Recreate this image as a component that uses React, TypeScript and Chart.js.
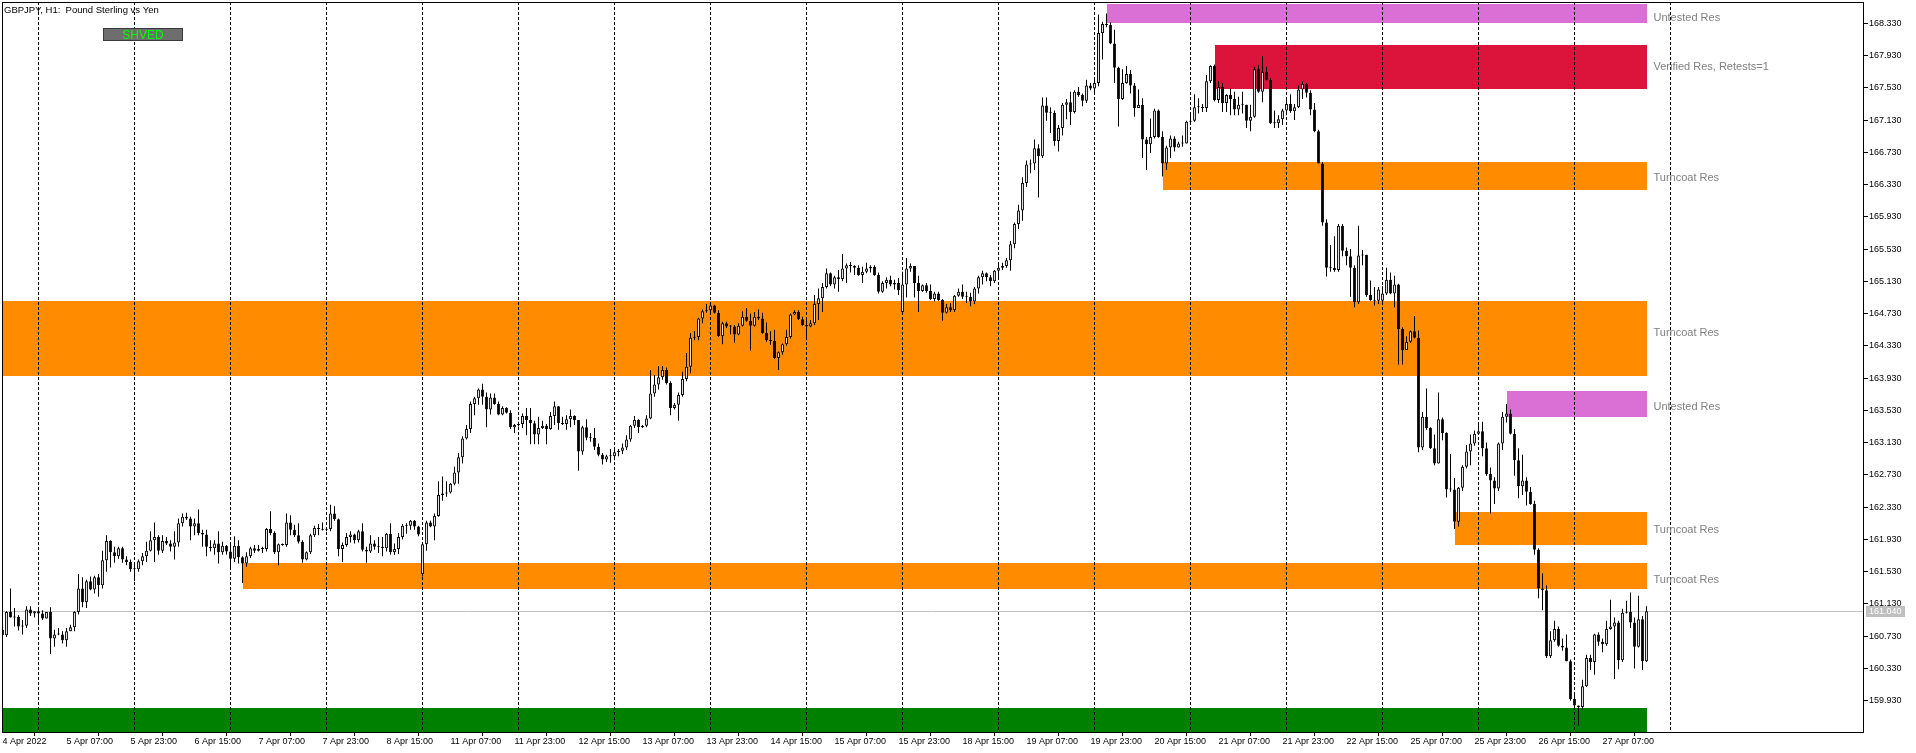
import React, { useEffect, useRef } from 'react';
import { Chart, registerables } from 'chart.js';

Chart.register(...registerables);

// ---------- DATA (GBPJPY H1, bar 0 = 4 Apr 2022 15:00) ----------
const closes = [
  160.74,161.03,160.96,160.97,160.85,160.86,161.06,161.01,161.04,161.01,160.95,161.03,
  160.70,160.75,160.75,160.68,160.79,160.84,161.03,161.32,161.15,161.41,161.31,161.46,
  161.36,161.67,161.91,161.77,161.72,161.82,161.68,161.65,161.56,161.56,161.66,161.72,
  161.79,161.92,161.96,161.79,161.91,161.88,161.84,161.89,162.13,162.21,162.19,162.09,
  162.13,162.01,161.99,161.84,161.82,161.88,161.77,161.85,161.78,161.69,161.85,161.71,
  161.63,161.72,161.82,161.79,161.81,161.81,162.06,162.01,161.77,161.87,161.86,162.14,
  162.05,161.98,161.90,161.68,161.77,161.98,162.07,162.06,162.05,162.06,162.25,162.18,
  161.81,161.86,161.96,161.99,161.92,162.03,161.80,161.78,161.88,161.84,161.84,161.82,
  162.00,161.77,161.81,161.96,162.10,162.10,162.16,162.09,161.99,161.87,162.14,162.09,
  162.22,162.48,162.50,162.51,162.62,162.76,162.95,163.18,163.30,163.61,163.68,163.79,
  163.70,163.54,163.69,163.61,163.48,163.56,163.50,163.32,163.35,163.36,163.46,163.41,
  163.37,163.23,163.31,163.34,163.30,163.46,163.58,163.37,163.36,163.42,163.46,163.41,
  163.02,163.32,163.19,163.19,163.08,162.98,162.92,162.96,162.96,163.01,163.03,163.07,
  163.17,163.34,163.41,163.32,163.34,163.43,163.74,163.85,163.94,164.03,163.87,163.56,
  163.60,163.72,163.92,164.07,164.43,164.44,164.67,164.76,164.77,164.83,164.74,164.45,
  164.61,164.57,164.57,164.47,164.58,164.69,164.64,164.58,164.69,164.67,164.49,164.40,
  164.39,164.18,164.25,164.35,164.44,164.72,164.75,164.66,164.59,164.57,164.61,164.85,
  164.92,165.06,165.23,165.09,165.18,165.16,165.29,165.33,165.32,165.30,165.21,165.25,
  165.29,165.31,165.21,165.00,165.11,165.15,165.09,165.11,165.02,165.09,165.29,165.32,
  165.11,165.01,165.08,165.01,164.91,164.98,164.90,164.74,164.81,164.77,164.95,165.00,
  164.94,164.94,164.88,165.04,165.18,165.23,165.18,165.13,165.26,165.30,165.32,165.39,
  165.59,165.84,166.01,166.35,166.58,166.59,166.78,166.68,167.31,167.22,167.22,166.87,
  167.03,167.32,167.35,167.23,167.48,167.44,167.37,167.56,167.52,167.59,168.21,168.32,
  168.31,168.08,167.78,167.39,167.59,167.70,167.56,167.28,167.32,166.89,166.83,166.92,
  167.25,166.92,166.59,166.79,166.90,166.79,166.84,166.84,167.11,167.12,167.29,167.29,
  167.28,167.61,167.80,167.38,167.54,167.34,167.44,167.39,167.26,167.32,167.32,167.12,
  167.17,167.76,167.48,167.73,167.63,167.09,167.09,167.14,167.25,167.33,167.24,167.29,
  167.51,167.58,167.47,167.26,166.99,166.59,165.86,165.30,165.30,165.27,165.82,165.51,
  165.44,165.30,164.87,165.45,165.46,164.96,164.90,164.89,165.03,164.98,165.15,164.98,
  165.09,164.54,164.28,164.38,164.51,164.43,163.07,163.45,163.31,163.06,162.87,163.42,
  163.25,162.55,162.55,162.15,162.57,162.83,163.02,163.12,163.24,163.27,163.06,162.74,
  162.66,162.56,163.12,163.45,163.49,163.24,162.91,162.59,162.66,162.52,162.37,161.80,
  161.32,161.30,160.48,160.68,160.82,160.61,160.59,160.42,159.95,159.87,159.85,160.11,
  160.46,160.41,160.75,160.66,160.63,160.82,160.85,160.90,160.43,161.02,161.03,160.90,
  160.60,160.94,160.42,161.04,
];

const highs = [
  160.83,161.04,161.32,161.08,160.99,160.93,161.10,161.10,161.04,161.09,161.05,161.03,
  161.09,160.81,160.83,160.79,160.83,160.87,161.04,161.50,161.46,161.43,161.47,161.48,
  161.50,161.79,161.98,161.92,161.84,161.84,161.84,161.72,161.68,161.63,161.68,161.76,
  161.90,162.03,162.14,161.98,161.98,161.96,161.92,162.03,162.19,162.25,162.26,162.21,
  162.19,162.30,162.05,162.05,161.92,161.92,162.03,161.90,161.86,161.88,161.97,161.92,
  161.72,161.77,161.84,161.86,161.86,161.84,162.07,162.28,162.03,161.88,161.88,162.25,
  162.23,162.11,162.13,161.92,161.78,162.00,162.10,162.12,162.14,162.07,162.36,162.34,
  162.19,161.89,162.01,162.03,162.00,162.05,162.13,161.84,161.98,161.92,161.96,161.96,
  162.01,162.13,161.88,162.01,162.12,162.13,162.17,162.17,162.10,161.88,162.16,162.16,
  162.25,162.65,162.71,162.65,162.63,162.83,163.00,163.21,163.35,163.64,163.70,163.80,
  163.86,163.75,163.74,163.74,163.64,163.58,163.57,163.53,163.36,163.39,163.49,163.56,
  163.56,163.40,163.45,163.40,163.36,163.51,163.64,163.58,163.45,163.47,163.54,163.47,
  163.41,163.34,163.42,163.25,163.31,163.12,163.00,162.98,163.05,163.06,163.05,163.12,
  163.22,163.35,163.46,163.42,163.35,163.47,164.03,163.97,164.08,164.08,164.06,163.89,
  163.62,163.75,164.01,164.24,164.49,164.51,164.68,164.78,164.85,164.87,164.84,164.77,
  164.63,164.63,164.59,164.59,164.61,164.76,164.80,164.73,164.75,164.78,164.74,164.62,
  164.51,164.53,164.26,164.36,164.53,164.73,164.77,164.77,164.69,164.65,164.65,164.96,
  165.04,165.11,165.29,165.24,165.20,165.27,165.47,165.35,165.37,165.33,165.33,165.31,
  165.36,165.33,165.33,165.24,165.13,165.18,165.20,165.15,165.17,165.25,165.42,165.35,
  165.32,165.20,165.09,165.11,165.09,165.00,165.00,164.91,164.85,164.86,164.96,165.04,
  165.09,165.00,164.99,165.06,165.20,165.26,165.24,165.21,165.27,165.35,165.36,165.42,
  165.63,165.86,166.08,166.42,166.63,166.64,166.89,166.83,167.41,167.41,167.29,167.25,
  167.07,167.34,167.39,167.48,167.50,167.54,167.46,167.63,167.59,167.63,168.44,168.35,
  168.45,168.34,168.25,167.79,167.76,167.80,167.75,167.59,167.51,167.40,166.92,167.15,
  167.27,167.26,166.99,166.81,166.94,166.93,166.86,166.94,167.12,167.23,167.45,167.40,
  167.33,167.69,167.81,167.82,167.61,167.59,167.45,167.52,167.48,167.42,167.48,167.32,
  167.32,167.79,167.81,167.92,167.79,167.65,167.25,167.19,167.27,167.40,167.45,167.33,
  167.56,167.61,167.59,167.50,167.34,167.01,166.61,165.90,165.58,165.69,165.84,165.84,
  165.55,165.53,165.33,165.82,165.52,165.46,165.14,165.06,165.06,165.07,165.30,165.24,
  165.20,165.10,164.56,164.45,164.52,164.70,164.52,163.51,163.80,163.32,163.23,163.75,
  163.44,163.26,162.99,162.69,162.58,162.85,163.10,163.23,163.28,163.37,163.39,163.13,
  162.82,162.70,163.13,163.51,163.61,163.54,163.30,163.06,162.98,162.70,162.58,162.41,
  161.82,161.51,161.36,160.79,160.92,160.85,160.70,160.75,160.44,160.03,159.87,160.19,
  160.50,160.50,160.76,160.78,160.70,160.92,161.18,160.96,160.92,161.07,161.17,161.27,
  160.96,161.23,160.98,161.10,
];

const lows = [
  160.72,160.72,160.96,160.85,160.80,160.75,160.83,160.98,160.96,160.87,160.93,160.95,
  160.51,160.60,160.74,160.64,160.60,160.79,160.79,161.00,161.09,161.08,161.30,161.26,
  161.22,161.32,161.53,161.58,161.64,161.69,161.64,161.61,161.53,161.41,161.53,161.61,
  161.65,161.78,161.65,161.74,161.76,161.86,161.78,161.68,161.84,162.09,162.17,161.92,
  161.98,161.98,161.84,161.72,161.78,161.74,161.63,161.74,161.74,161.57,161.65,161.63,
  161.39,161.59,161.70,161.76,161.78,161.76,161.78,161.98,161.75,161.61,161.85,161.84,
  161.98,161.96,161.88,161.64,161.67,161.75,161.96,161.98,162.04,162.03,162.03,162.16,
  161.72,161.65,161.84,161.89,161.88,161.89,161.78,161.64,161.76,161.80,161.76,161.72,
  161.78,161.74,161.74,161.75,161.93,162.00,162.05,162.05,161.97,161.47,161.79,162.08,
  161.92,162.21,162.41,162.46,162.50,162.60,162.62,162.87,163.17,163.25,163.47,163.60,
  163.60,163.32,163.48,163.60,163.47,163.47,163.49,163.30,163.25,163.33,163.31,163.22,
  163.11,163.11,163.11,163.30,163.11,163.29,163.35,163.29,163.35,163.29,163.32,163.35,
  162.78,162.98,163.16,163.14,163.04,162.96,162.86,162.89,162.88,162.91,162.96,162.99,
  163.04,163.14,163.31,163.25,163.31,163.32,163.42,163.70,163.79,163.91,163.85,163.47,
  163.54,163.40,163.70,163.89,163.99,164.40,164.40,164.61,164.74,164.72,164.73,164.44,
  164.35,164.55,164.47,164.37,164.46,164.57,164.63,164.27,164.57,164.65,164.48,164.38,
  164.34,164.17,164.03,164.22,164.33,164.42,164.71,164.65,164.58,164.40,164.56,164.59,
  164.65,164.75,165.04,165.07,165.04,165.00,165.13,165.11,165.24,165.21,165.20,165.11,
  165.23,165.24,165.20,164.98,164.99,165.04,165.07,165.03,164.96,164.75,164.93,165.25,
  164.93,164.75,165.00,164.99,164.90,164.88,164.89,164.64,164.73,164.75,164.75,164.94,
  164.91,164.86,164.82,164.85,164.98,165.09,165.13,165.07,165.11,165.17,165.27,165.30,
  165.26,165.54,165.78,165.88,166.30,166.47,166.51,166.17,166.66,167.12,166.97,166.81,
  166.74,166.94,167.14,167.07,167.21,167.42,167.30,167.34,167.50,167.45,167.55,167.88,
  168.28,168.07,167.59,167.05,167.38,167.58,167.46,167.17,167.28,166.66,166.51,166.72,
  166.90,166.91,166.43,166.51,166.66,166.74,166.79,166.80,166.84,167.09,167.11,167.21,
  167.23,167.23,167.59,167.36,167.34,167.23,167.23,167.19,167.19,167.19,167.21,167.03,
  166.99,167.16,167.47,167.35,167.62,167.08,167.03,167.03,167.07,167.19,167.22,167.13,
  167.28,167.39,167.41,167.19,166.98,166.59,165.82,165.19,165.25,165.25,165.25,165.44,
  165.33,164.94,164.81,164.85,165.33,164.94,164.89,164.83,164.85,164.87,164.96,164.97,
  164.81,164.10,164.10,164.28,164.37,164.42,163.01,163.04,163.29,163.05,162.85,162.87,
  163.16,162.45,162.52,162.06,162.09,162.53,162.81,162.85,163.09,163.23,162.96,162.72,
  162.25,162.37,162.53,163.04,163.38,163.23,162.72,162.44,162.48,162.35,162.36,161.74,
  161.20,161.05,160.46,160.46,160.66,160.60,160.55,160.42,159.93,159.85,159.62,159.82,
  160.10,160.31,160.25,160.61,160.53,160.61,160.81,160.20,160.32,160.41,161.01,160.83,
  160.33,160.59,160.31,160.41,
];

// opens equal the previous close, except the first bar and weekend gaps
const gapOpens: Record<number, number> = { 0: 160.81, 105: 161.50, 225: 164.75, 345: 164.89 };

const lastPrice = 161.04;
const priceMin = 159.5415;
const priceMax = 168.594;

const priceTicks = [
  159.93, 160.33, 160.73, 161.13, 161.53, 161.93, 162.33, 162.73, 163.13, 163.53, 163.93,
  164.33, 164.73, 165.13, 165.53, 165.93, 166.33, 166.73, 167.13, 167.53, 167.93, 168.33,
];

const timeTickBars = [0,16,32,48,64,80,96,112,128,144,160,176,192,208,224,240,256,272,288,304,320,336,352,368,384,400];
const timeTickLabels = [
  '4 Apr 2022', '5 Apr 07:00', '5 Apr 23:00', '6 Apr 15:00', '7 Apr 07:00', '7 Apr 23:00',
  '8 Apr 15:00', '11 Apr 07:00', '11 Apr 23:00', '12 Apr 15:00', '13 Apr 07:00', '13 Apr 23:00',
  '14 Apr 15:00', '15 Apr 07:00', '15 Apr 23:00', '18 Apr 15:00', '19 Apr 07:00', '19 Apr 23:00',
  '20 Apr 15:00', '21 Apr 07:00', '21 Apr 23:00', '22 Apr 15:00', '25 Apr 07:00', '25 Apr 23:00',
  '26 Apr 15:00', '27 Apr 07:00',
];

const daySeparatorBars = [9,33,57,81,105,129,153,177,201,225,249,273,297,321,345,369,393,417];

const zoneNames = ['Untested Res', 'Verified Res, Retests=1', 'Turncoat Res', 'Turncoat Res', 'Untested Res', 'Turncoat Res', 'Turncoat Res', ''];
const zoneLow = [168.33, 167.51, 166.26, 163.96, 163.45, 161.86, 161.32, 159.20];
const zoneHigh = [168.57, 168.06, 166.61, 164.89, 163.77, 162.27, 161.64, 159.84];
const zoneFromBar = [276, 303, 290, -2, 376, 363, 60, -2];
const zoneLabelPrice = [168.395, 167.79, 166.41, 164.49, 163.57, 162.05, 161.43, 159.5];

// ---------- STYLE ----------
const zoneColors = ['#DA70D6', '#DC143C', '#FF8C00', '#FF8C00', '#DA70D6', '#FF8C00', '#FF8C00', '#008000'];
const FONT = '"Liberation Sans", Arial, sans-serif';

const lastBar = closes.length - 1;
const opens = closes.map((c, i) => (gapOpens[i] !== undefined ? gapOpens[i] : closes[i - 1]));

const overlayPlugin = {
  id: 'mt4overlay',
  beforeDatasetsDraw(chart: any) {
    const { ctx, chartArea: a, scales } = chart;
    const xs = scales.x;
    const ys = scales.y;
    ctx.save();
    ctx.beginPath();
    ctx.rect(a.left, a.top, a.right - a.left, a.bottom - a.top);
    ctx.clip();
    // zones
    const xEnd = Math.round(xs.getPixelForValue(lastBar));
    for (let i = 0; i < zoneLow.length; i++) {
      const x0 = Math.round(xs.getPixelForValue(zoneFromBar[i]));
      const y0 = Math.round(ys.getPixelForValue(zoneHigh[i]));
      const y1 = Math.round(ys.getPixelForValue(zoneLow[i]));
      ctx.fillStyle = zoneColors[i];
      ctx.fillRect(x0, y0, xEnd - x0, y1 - y0);
    }
    // bid line
    const py = Math.round(ys.getPixelForValue(lastPrice)) + 0.5;
    ctx.strokeStyle = '#c0c0c0';
    ctx.lineWidth = 1;
    ctx.beginPath();
    ctx.moveTo(a.left, py);
    ctx.lineTo(a.right, py);
    ctx.stroke();
    // day separators
    ctx.strokeStyle = '#000';
    ctx.setLineDash([3, 2]);
    for (const b of daySeparatorBars) {
      const x = Math.round(xs.getPixelForValue(b) - 0.5) + 0.5;
      ctx.beginPath();
      ctx.moveTo(x, a.top);
      ctx.lineTo(x, a.bottom);
      ctx.stroke();
    }
    ctx.restore();
  },
  afterDraw(chart: any) {
    const { ctx, chartArea: a, scales } = chart;
    const xs = scales.x;
    const ys = scales.y;
    ctx.save();
    // zone labels
    ctx.font = `11px ${FONT}`;
    ctx.fillStyle = '#808080';
    ctx.textAlign = 'left';
    ctx.textBaseline = 'middle';
    const lx = xs.getPixelForValue(lastBar) + 7;
    for (let i = 0; i < zoneNames.length; i++) {
      if (!zoneNames[i]) continue;
      const y = ys.getPixelForValue(zoneLabelPrice[i]);
      ctx.fillText(zoneNames[i], lx, y);
    }
    // title
    ctx.fillStyle = '#000';
    ctx.font = `9.5px ${FONT}`;
    ctx.fillText('GBPJPY, H1:  Pound Sterling vs Yen', a.left + 2, a.top + 8);
    // SHVED button
    ctx.fillStyle = '#6e6e6e';
    ctx.fillRect(103, 28, 80, 13);
    ctx.strokeStyle = '#3a3a3a';
    ctx.lineWidth = 1;
    ctx.strokeRect(103.5, 28.5, 79, 12);
    ctx.fillStyle = '#00ff00';
    ctx.font = `12px ${FONT}`;
    ctx.textAlign = 'center';
    ctx.fillText('SHVED', 143, 35.5);
    // frame
    ctx.strokeStyle = '#000';
    ctx.strokeRect(a.left + 0.5, a.top + 0.5, a.right - a.left, a.bottom - a.top);
    // current price box
    const py = Math.round(ys.getPixelForValue(lastPrice));
    ctx.fillStyle = '#c0c0c0';
    ctx.fillRect(a.right + 3, py - 5, 39, 11);
    ctx.fillStyle = '#fff';
    ctx.font = `9px ${FONT}`;
    ctx.textAlign = 'left';
    ctx.fillText(lastPrice.toFixed(3), a.right + 6, py + 0.5);
    ctx.restore();
  },
};

export default function App() {
  const ref = useRef<HTMLCanvasElement>(null);
  useEffect(() => {
    const canvas = ref.current;
    if (!canvas) return;
    const bodies = closes.map((c, i) => ({ x: i, y: [opens[i], c] }));
    const wicks = closes.map((_, i) => ({ x: i, y: [lows[i], highs[i]] }));
    const bodyColors = closes.map((c, i) => (c > opens[i] ? '#ffffff' : '#000000'));
    const labelFor = new Map<number, string>();
    timeTickBars.forEach((b, i) => labelFor.set(b, timeTickLabels[i]));

    const chart = new Chart(canvas, {
      type: 'bar',
      data: {
        datasets: [
          {
            label: 'bodies',
            data: bodies as any,
            backgroundColor: bodyColors,
            borderColor: '#000',
            borderWidth: 1,
            borderSkipped: false,
            maxBarThickness: 3,
            minBarLength: 1,
            inflateAmount: 0,
            grouped: false,
            order: 0,
          } as any,
          {
            label: 'wicks',
            data: wicks as any,
            backgroundColor: '#000',
            borderWidth: 0,
            maxBarThickness: 1,
            inflateAmount: 0,
            grouped: false,
            order: 1,
          } as any,
        ],
      },
      options: {
        responsive: false,
        animation: false,
        devicePixelRatio: 1,
        events: [],
        layout: { padding: { left: 2, top: 2, right: 0, bottom: 0 } },
        plugins: { legend: { display: false }, tooltip: { enabled: false }, title: { display: false } },
        scales: {
          x: {
            type: 'linear',
            min: -0.125,
            max: 465.125,
            offset: false,
            grid: { display: true, drawOnChartArea: false, drawTicks: true, tickLength: 4, color: '#000' },
            border: { display: false },
            ticks: {
              autoSkip: false,
              maxRotation: 0,
              minRotation: 0,
              align: 'start',
              padding: 0,
              color: '#000',
              font: { family: FONT, size: 9 },
              callback: (v: any) => labelFor.get(Number(v)) ?? '',
            },
            afterBuildTicks: (s: any) => {
              s.ticks = timeTickBars.map((v) => ({ value: v }));
            },
            afterFit: (s: any) => {
              s.height = 21;
              s.paddingLeft = 0;
              s.paddingRight = 0;
            },
          } as any,
          y: {
            type: 'linear',
            position: 'right',
            min: priceMin,
            max: priceMax,
            grid: { display: true, drawOnChartArea: false, drawTicks: true, tickLength: 5, color: '#000' },
            border: { display: false },
            ticks: {
              autoSkip: false,
              padding: 1,
              color: '#000',
              font: { family: FONT, size: 9 },
              callback: (v: any) => Number(v).toFixed(3),
            },
            afterBuildTicks: (s: any) => {
              s.ticks = priceTicks.map((v) => ({ value: v }));
            },
            afterFit: (s: any) => {
              s.width = 53;
              s.paddingTop = 0;
              s.paddingBottom = 0;
            },
          } as any,
        },
      },
      plugins: [overlayPlugin],
    });
    return () => chart.destroy();
  }, []);

  return (
    <div style={{ position: 'fixed', left: 0, top: 0, width: 1916, height: 753, background: '#fff' }}>
      <canvas ref={ref} width={1916} height={753} style={{ display: 'block', width: 1916, height: 753 }} />
    </div>
  );
}
